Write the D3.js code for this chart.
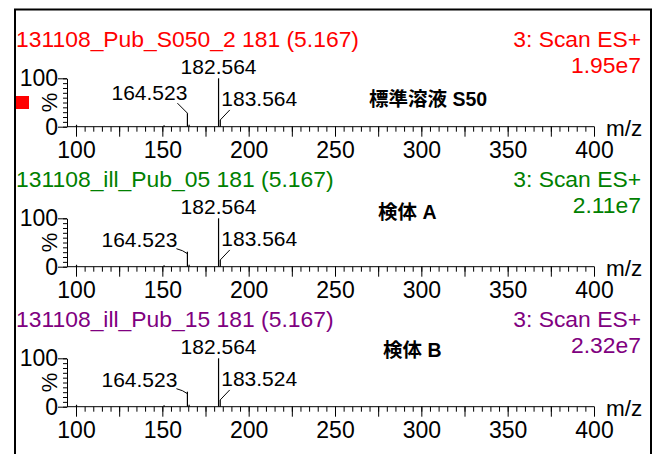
<!DOCTYPE html>
<html>
<head>
<meta charset="utf-8">
<script src="https://cdn.jsdelivr.net/npm/d3@7"></script>
<style>
  body { margin: 0; background: #fff; }
  svg { display: block; font-family: Arial, "Liberation Sans", sans-serif; }
</style>
</head>
<body>
<div id="root"></div>
<script>
// chart data
const sampleFiles = ["131108_Pub_S050_2 181 (5.167)", "131108_ill_Pub_05 181 (5.167)", "131108_ill_Pub_15 181 (5.167)"];
const scanLabel = "3: Scan ES+";
const maxIntensity = ["1.95e7", "2.11e7", "2.32e7"];
const sampleNames = ["標準溶液 S50", "検体 A", "検体 B"];

const peakMz = [
  [100.3, 151.0, 164.523, 165.5, 182.564, 183.564],
  [100.3, 151.0, 164.523, 165.5, 182.564, 183.564],
  [100.3, 151.0, 164.523, 165.5, 182.564, 183.524]
];
const peakIntensity = [
  [4, 3, 28, 4, 100, 14],
  [4, 3, 31, 4, 100, 14],
  [4, 3, 31, 4, 100, 14]
];
// labelled peaks: left label, top label, right label
const labelMz = [
  [164.523, 182.564, 183.564],
  [164.523, 182.564, 183.564],
  [164.523, 182.564, 183.524]
];
const labelIntensity = [
  [28, 100, 14],
  [31, 100, 14],
  [31, 100, 14]
];

const xLabelTicks = [100, 150, 200, 250, 300, 350, 400];
const yLabelTicks = [0, 100];

// styles / layout
const colors = ["#ff0000", "#008000", "#800080"];
const width = 656, height = 454;
const panelGap = 140;
const nameX = [369, 378, 383];
const nameY = [106, 79, 77];

const svg = d3.select("#root").append("svg")
  .attr("width", width)
  .attr("height", height);

// frame
svg.append("path")
  .attr("d", `M15,${height + 5} V9.5 H651 V${height + 5}`)
  .attr("fill", "none")
  .attr("stroke", "#000")
  .attr("stroke-width", 2);

const x = d3.scaleLinear().domain([100, 400]).range([76, 594]);
const y = d3.scaleLinear().domain([0, 100]).range([126.7, 78.3]);

function wideText(g, tx, ty, anchor, str, color) {
  g.append("text")
    .attr("transform", `translate(${tx},${ty}) scale(1.04,1)`)
    .attr("text-anchor", anchor)
    .attr("font-size", 22)
    .attr("fill", color)
    .text(str);
}

sampleFiles.forEach((file, i) => {
  const g = svg.append("g").attr("transform", `translate(0,${i * panelGap})`);

  wideText(g, 16, 47, "start", file, colors[i]);
  wideText(g, 641, 47, "end", scanLabel, colors[i]);
  wideText(g, 641, 73, "end", maxIntensity[i], colors[i]);

  g.append("text")
    .attr("x", nameX[i]).attr("y", nameY[i])
    .attr("font-size", 19.5)
    .attr("font-weight", "bold")
    .attr("font-family", "Arial, 'Liberation Sans', 'Noto Sans CJK JP', sans-serif")
    .attr("fill", "#000")
    .text(sampleNames[i]);

  if (i === 0) {
    g.append("rect")
      .attr("x", 16).attr("y", 96)
      .attr("width", 13).attr("height", 13)
      .attr("fill", "#ff0000");
  }

  // x axis
  const xAxis = g.append("g").attr("transform", `translate(0,${y(0)})`);
  xAxis.append("line")
    .attr("x1", x(100) - 9).attr("x2", x(400))
    .attr("stroke", "#000");
  xAxis.append("g")
    .call(d3.axisBottom(x).tickValues(d3.range(100, 401, 5)).tickSize(5).tickFormat(""))
    .call(a => a.select(".domain").remove());
  xAxis.append("g")
    .call(d3.axisBottom(x).tickValues(d3.range(100, 401, 25)).tickSize(10).tickFormat(""))
    .call(a => a.select(".domain").remove());
  xAxis.append("g")
    .call(d3.axisBottom(x).tickValues(xLabelTicks).tickSize(0).tickPadding(15))
    .call(a => a.select(".domain").remove())
    .call(a => a.selectAll("text").attr("font-size", 23).attr("font-family", "Arial, 'Liberation Sans', sans-serif").attr("fill", "#000"));

  g.append("text")
    .attr("x", 606).attr("y", y(0) + 9)
    .attr("font-size", 22.5)
    .text("m/z");

  // y axis
  const yAxis = g.append("g").attr("transform", `translate(${x(100) - 9},0)`);
  yAxis.append("g")
    .call(d3.axisLeft(y).tickValues(d3.range(0, 101, 10)).tickSize(4).tickFormat("").tickSizeOuter(0));
  yAxis.append("g")
    .call(d3.axisLeft(y).tickValues(yLabelTicks).tickSize(9).tickPadding(0))
    .call(a => a.select(".domain").remove())
    .call(a => a.selectAll("text").attr("font-size", 23).attr("font-family", "Arial, 'Liberation Sans', sans-serif").attr("fill", "#000"));
  yAxis.selectAll("line, path").attr("stroke", "#000");

  g.append("text")
    .attr("transform", `translate(57,${(y(0) + y(100)) / 2}) rotate(-90)`)
    .attr("text-anchor", "middle")
    .attr("font-size", 22)
    .text("%");

  // peaks
  g.selectAll(".peak")
    .data(peakMz[i].map((m, k) => [m, peakIntensity[i][k]]))
    .join("line")
    .attr("class", "peak")
    .attr("x1", d => x(d[0])).attr("x2", d => x(d[0]))
    .attr("y1", y(0)).attr("y2", d => y(d[1]))
    .attr("stroke", "#000")
    .attr("stroke-width", 1.2);

  const lab = labelMz[i].map((m, k) => ({ m, v: labelIntensity[i][k], px: x(m), py: y(labelIntensity[i][k]) }));

  // left label with leader
  const L = lab[0];
  if (i === 0) {
    g.append("path")
      .attr("d", `M${L.px - 10},${L.py - 10} L${L.px},${L.py}`)
      .attr("fill", "none").attr("stroke", "#000");
    g.append("text")
      .attr("x", L.px).attr("y", L.py - 13)
      .attr("text-anchor", "end").attr("font-size", 21)
      .text(L.m.toFixed(3));
  } else {
    g.append("path")
      .attr("d", `M${L.px - 11},${L.py - 3} L${L.px - 5},${L.py - 1} L${L.px},${L.py + 2}`)
      .attr("fill", "none").attr("stroke", "#000");
    g.append("text")
      .attr("x", L.px - 10).attr("y", L.py - 5)
      .attr("text-anchor", "end").attr("font-size", 21)
      .text(L.m.toFixed(3));
  }

  // top label
  const T = lab[1];
  g.append("text")
    .attr("x", T.px).attr("y", T.py - 4)
    .attr("text-anchor", "middle").attr("font-size", 21)
    .text(T.m.toFixed(3));

  // right label with leader
  const R = lab[2];
  g.append("path")
    .attr("d", `M${R.px + 9.5},${R.py - 10} L${R.px},${R.py}`)
    .attr("fill", "none").attr("stroke", "#000");
  g.append("text")
    .attr("x", R.px + 1).attr("y", R.py - 14)
    .attr("font-size", 21)
    .text(R.m.toFixed(3));
});
</script>
</body>
</html>
